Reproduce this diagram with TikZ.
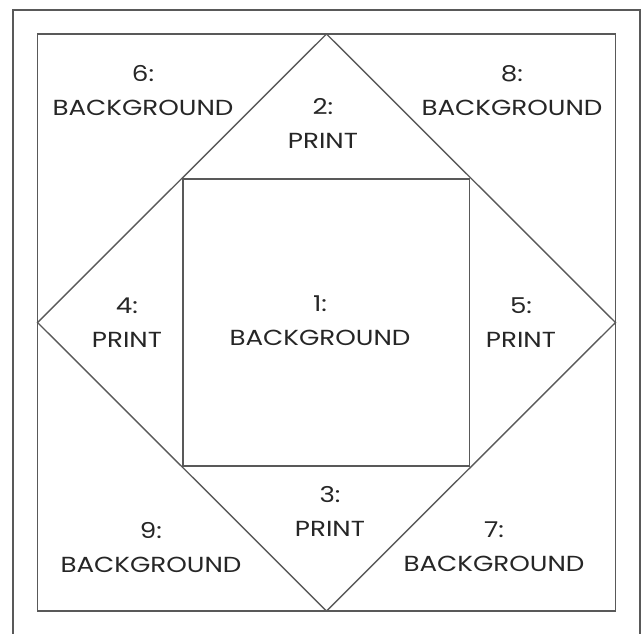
\documentclass[tikz,border=0pt]{standalone}
\usepackage{fontspec}
\setmainfont[FakeStretch=1.2]{Poppins}
\begin{document}
\begin{tikzpicture}[x=1pt,y=-1pt,
  edge/.style={draw=black!65, line width=1.4pt},
  lbl/.style={align=center, text=black!85, font=\fontsize{21.8}{34}\selectfont, inner sep=0pt}]
\useasboundingbox (0,0) rectangle (643,633);
\draw[edge] (13,640) -- (13,10) -- (640,10) -- (640,640);
\coordinate (A) at (37.5,34);
\coordinate (B) at (615.5,34);
\coordinate (C) at (615.5,611);
\coordinate (D) at (37.5,611);
\draw[edge] (A) rectangle (C);
\coordinate (T) at (326.5,34);
\coordinate (R) at (615.5,322.5);
\coordinate (Bo) at (326.5,611);
\coordinate (L) at (37.5,322.5);
\draw[edge] (T) -- (R) -- (Bo) -- (L) -- cycle;
\draw[edge] (183,179) rectangle (469.5,466);
\node[lbl] (n1) at (320,321) {1:\\BACKGROUND};
\node[lbl] (n2) at (323,123) {2:\\PRINT};
\node[lbl] (n3) at (330,511) {3:\\PRINT};
\node[lbl] (n4) at (127,323) {4:\\PRINT};
\node[lbl] (n5) at (521,323) {5:\\PRINT};
\node[lbl] (n6) at (143,91) {6:\\BACKGROUND};
\node[lbl] (n7) at (494,547) {7:\\BACKGROUND};
\node[lbl] (n8) at (512,91) {8:\\BACKGROUND};
\node[lbl] (n9) at (151,548) {9:\\BACKGROUND};
\end{tikzpicture}
\end{document}
